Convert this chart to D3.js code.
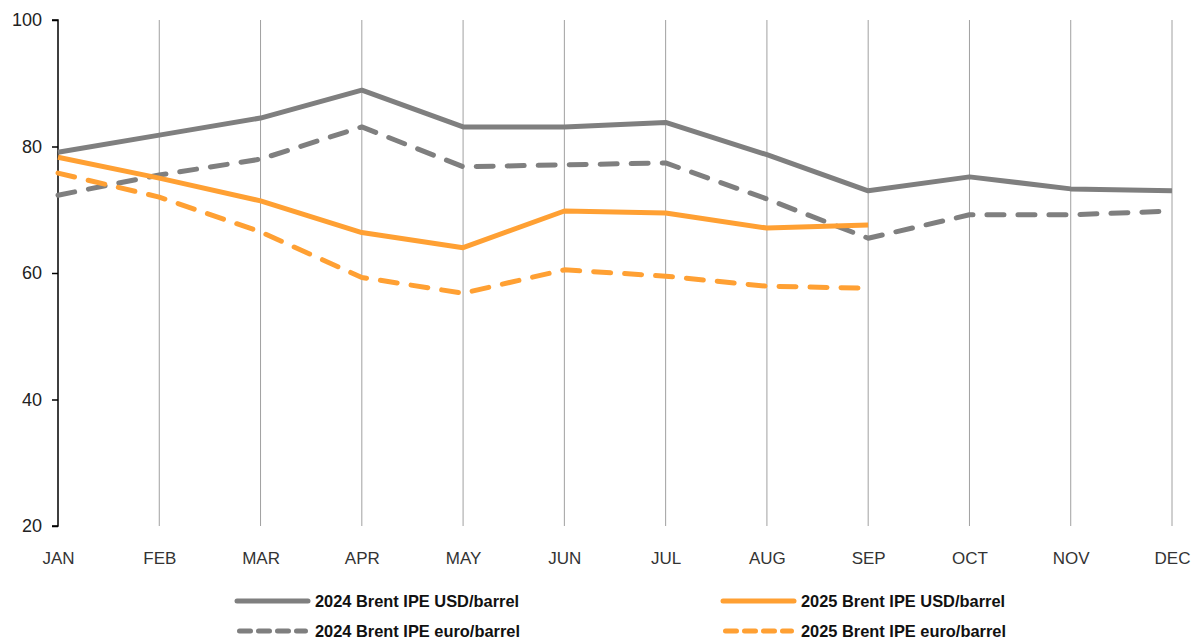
<!DOCTYPE html>
<html><head><meta charset="utf-8">
<script src="https://cdn.jsdelivr.net/npm/d3@7"></script>
<style>body{margin:0;background:#fff}svg{display:block;font-family:"Liberation Sans",Arial,sans-serif}</style>
</head><body><svg id="c" width="1198" height="642"></svg>
<script>
const months = ["JAN","FEB","MAR","APR","MAY","JUN","JUL","AUG","SEP","OCT","NOV","DEC"];
const usd2024 = [79.1,81.8,84.5,88.9,83.1,83.1,83.8,78.7,73.0,75.2,73.3,73.0];
const eur2024 = [72.3,75.5,78.0,83.1,76.8,77.1,77.4,71.7,65.5,69.2,69.2,69.8];
const usd2025 = [78.3,75.0,71.4,66.4,64.0,69.8,69.5,67.1,67.6];
const eur2025 = [75.8,72.0,66.5,59.3,56.8,60.5,59.5,57.9,57.6];
const yTicks = [20,40,60,80,100];

const series = [
  {name:"2024 Brent IPE USD/barrel", values:usd2024, color:"#7f7f7f", dash:null},
  {name:"2025 Brent IPE USD/barrel", values:usd2025, color:"#ffa033", dash:null},
  {name:"2024 Brent IPE euro/barrel", values:eur2024, color:"#7f7f7f", dash:"17,14"},
  {name:"2025 Brent IPE euro/barrel", values:eur2025, color:"#ffa033", dash:"17,14"}
];

const svg = d3.select("#c");
const x = d3.scalePoint().domain(months).range([58,1172]);
const y = d3.scaleLinear().domain([20,100]).range([526,20]);

// gridlines
svg.append("g").selectAll("line").data(months.slice(1)).join("line")
  .attr("x1",d=>x(d)).attr("x2",d=>x(d)).attr("y1",y(100)).attr("y2",y(20))
  .attr("stroke","#a0a0a0").attr("stroke-width",1);

// y axis
const ya = svg.append("g").attr("transform","translate(58,0)")
  .call(d3.axisLeft(y).tickValues(yTicks).tickSize(6).tickPadding(10).tickFormat(d3.format("d")));
ya.select(".domain").attr("stroke","#000").attr("stroke-width",1.5).attr("d","M-6,"+y(100)+"H0V"+y(20)+"H-6");
ya.selectAll(".tick line").attr("stroke","#000").attr("stroke-width",1.5);
ya.selectAll(".tick text").attr("font-size",18).attr("fill","#222").attr("font-family","Liberation Sans, Arial, sans-serif");

// x labels
const xa = svg.append("g").attr("transform","translate(0,526)")
  .call(d3.axisBottom(x).tickSize(0).tickPadding(26));
xa.select(".domain").remove();
xa.selectAll(".tick text").attr("font-size",17).attr("fill","#333").attr("font-family","Liberation Sans, Arial, sans-serif");

// lines
const line = d3.line().x((d,i)=>x(months[i])).y(d=>y(d));
const order = [series[2],series[0],series[3],series[1]];
svg.append("g").selectAll("path").data(order).join("path")
  .attr("d",d=>line(d.values)).attr("fill","none")
  .attr("stroke",d=>d.color).attr("stroke-width",5)
  .attr("stroke-dasharray",d=>d.dash)
  .attr("stroke-linecap",d=>d.dash?"round":"butt")
  .attr("stroke-linejoin","round");

// legend
const legPos = [[237,601],[723,601],[237,631],[723,631]];
const lg = svg.append("g").selectAll("g").data(series).join("g")
  .attr("transform",(d,i)=>`translate(${legPos[i][0]},${legPos[i][1]})`);
lg.append("line").attr("x1",d=>d.dash?2.5:0).attr("x2",d=>d.dash?68.5:71).attr("y1",0).attr("y2",0)
  .attr("stroke",d=>d.color).attr("stroke-width",5)
  .attr("stroke-dasharray",d=>d.dash?"11,8":null)
  .attr("stroke-linecap","round");
lg.append("text").attr("x",78).attr("y",6).attr("font-size",16.4).attr("font-weight","bold")
  .attr("fill","#111").text(d=>d.name);
</script></body></html>
